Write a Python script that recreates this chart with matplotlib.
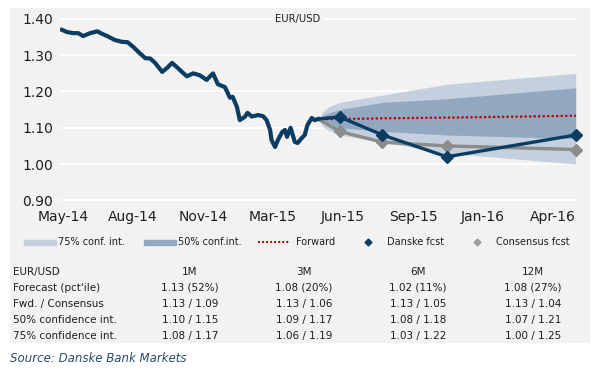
import numpy as np
import matplotlib
matplotlib.use("Agg")
import matplotlib.pyplot as plt
from matplotlib.patches import Rectangle
from matplotlib.lines import Line2D

# historical EUR/USD (days since start, spot)
hist_day = [0, 7, 16, 23, 30, 40, 50, 57, 64, 75, 85, 93, 101, 110, 118, 125,
            132, 142, 149, 156, 163, 170, 177, 186, 195, 205, 214, 221, 231,
            238, 242, 248, 252, 259, 263, 269, 278, 285, 290, 295, 297, 302,
            306, 312, 316, 319, 324, 330, 334, 340, 344, 348, 354, 358, 363]
hist_val = [1.370, 1.364, 1.361, 1.361, 1.353, 1.361, 1.366, 1.359, 1.353,
            1.342, 1.337, 1.336, 1.323, 1.306, 1.292, 1.291, 1.279, 1.254,
            1.265, 1.279, 1.267, 1.254, 1.242, 1.250, 1.245, 1.232, 1.250,
            1.220, 1.212, 1.183, 1.185, 1.157, 1.121, 1.130, 1.141, 1.131,
            1.135, 1.132, 1.121, 1.094, 1.066, 1.047, 1.066, 1.088, 1.094,
            1.075, 1.100, 1.061, 1.058, 1.072, 1.080, 1.108, 1.127, 1.121,
            1.124]

spot_day = 363
spot = 1.124

# forecast horizons in months
fc_months = [1, 3, 6, 12]
danske = [1.13, 1.08, 1.02, 1.08]
consensus = [1.09, 1.06, 1.05, 1.04]
forward = [1.124, 1.126, 1.128, 1.133]

# confidence cone (months incl. spot)
cone_months = [0, 0.25, 0.5, 1, 3, 6, 12]
ci50_lo = [1.124, 1.112, 1.106, 1.10, 1.09, 1.08, 1.07]
ci50_hi = [1.124, 1.135, 1.141, 1.15, 1.17, 1.18, 1.21]
ci75_lo = [1.124, 1.102, 1.092, 1.08, 1.06, 1.03, 1.00]
ci75_hi = [1.124, 1.146, 1.158, 1.17, 1.19, 1.22, 1.25]

xtick_labels = ["May-14", "Aug-14", "Nov-14", "Mar-15", "Jun-15", "Sep-15", "Jan-16", "Apr-16"]
yticks = [0.90, 1.00, 1.10, 1.20, 1.30, 1.40]

table_cols = ["1M", "3M", "6M", "12M"]
table_rows = ["Forecast (pct'ile)", "Fwd. / Consensus", "50% confidence int.", "75% confidence int."]
table_vals = [
    ["1.13 (52%)", "1.08 (20%)", "1.02 (11%)", "1.08 (27%)"],
    ["1.13 / 1.09", "1.13 / 1.06", "1.13 / 1.05", "1.13 / 1.04"],
    ["1.10 / 1.15", "1.09 / 1.17", "1.08 / 1.18", "1.07 / 1.21"],
    ["1.08 / 1.17", "1.06 / 1.19", "1.03 / 1.22", "1.00 / 1.25"],
]

# colours
BG = "#f2f2f2"
NAVY = "#0b3d62"
GREY = "#8c8c8c"
RED = "#c00000"
C75 = "#c4d0de"
C50 = "#92a7c0"
TXT = "#1e1e1e"
DOTS = (0, (0.01, 1.7))

plt.rcParams["font.family"] = ["DejaVu Sans"]

W, H = 607, 371
fig = plt.figure(figsize=(W / 100, H / 100), dpi=100)


def fx(px):
    return px / W


def fy(py):
    return 1 - py / H


# grey panel behind chart, legend and table
fig.patches.append(Rectangle((fx(10), fy(343)), (590 - 10) / W, (343 - 8) / H,
                             transform=fig.transFigure, facecolor=BG,
                             edgecolor="none", zorder=-10))

ax = fig.add_axes([fx(60), fy(204), (576 - 60) / W, (204 - 8) / H])
ax.set_facecolor("none")
ax.set_zorder(2)

month = 30.42
cone_x = [spot_day + m * month for m in cone_months]
fc_x = [spot_day + m * month for m in fc_months]

ax.fill_between(cone_x, ci75_lo, ci75_hi, color=C75, lw=0, zorder=1)
ax.fill_between(cone_x, ci50_lo, ci50_hi, color=C50, lw=0, zorder=2)

ax.plot([spot_day] + fc_x, [spot] + forward, color=RED, lw=1.9,
        linestyle=DOTS, dash_capstyle="round", zorder=3)
ax.plot([spot_day] + fc_x, [spot] + consensus, color=GREY, lw=2.4, zorder=4)
ax.plot(fc_x, consensus, ls="none", marker="D", ms=6, color=GREY, zorder=4,
        clip_on=False)
ax.plot(hist_day, hist_val, color=NAVY, lw=3.0, solid_joinstyle="round", zorder=5)
ax.plot([spot_day] + fc_x, [spot] + danske, color=NAVY, lw=2.4, zorder=5)
ax.plot(fc_x, danske, ls="none", marker="D", ms=6.5, color=NAVY, zorder=6,
        clip_on=False)

ax.set_xlim(-2.8, 728.5)
ax.set_ylim(0.8897, 1.4303)
tick_x = 1.4 + 99.2 * np.arange(len(xtick_labels))
ax.set_xticks(tick_x, xtick_labels)
ax.set_yticks(yticks, [f"{v:.2f}" for v in yticks])
ax.tick_params(length=0, labelsize=10, colors=TXT)
ax.tick_params(axis="y", pad=5)
ax.tick_params(axis="x", pad=4)
ax.grid(axis="y", color="white", lw=1.3, zorder=0)
ax.set_axisbelow(True)
for s in ax.spines.values():
    s.set_visible(False)

fig.text(fx(298), fy(19), "EUR/USD", fontsize=7.2, color=TXT, ha="center",
         va="center", zorder=5,
         bbox=dict(facecolor=BG, edgecolor="none", pad=1.5))

# legend row
ly = fy(242)
fig.patches.append(Rectangle((fx(24), ly - 2.5 / H), 32 / W, 5 / H,
                             transform=fig.transFigure, color=C75))
fig.text(fx(58), ly, "75% conf. int.", fontsize=7, color=TXT, va="center")
fig.patches.append(Rectangle((fx(144), ly - 2.5 / H), 32 / W, 5 / H,
                             transform=fig.transFigure, color=C50))
fig.text(fx(178), ly, "50% conf.int.", fontsize=7, color=TXT, va="center")
fig.lines.append(Line2D([fx(259), fx(290)], [ly, ly], transform=fig.transFigure,
                        color=RED, lw=1.7, linestyle=DOTS,
                        dash_capstyle="round"))
fig.text(fx(296), ly, "Forward", fontsize=7, color=TXT, va="center")
fig.lines.append(Line2D([fx(368)], [ly], transform=fig.transFigure, marker="D",
                        ms=3.5, color=NAVY, ls="none"))
fig.text(fx(387), ly, "Danske fcst", fontsize=7, color=TXT, va="center")
fig.lines.append(Line2D([fx(477)], [ly], transform=fig.transFigure, marker="D",
                        ms=3.5, color="#a0a0a0", ls="none"))
fig.text(fx(496), ly, "Consensus fcst", fontsize=7, color=TXT, va="center")

# table
col_x = [190, 304, 418, 533]
row_y = [288, 304, 320, 336]
fig.text(fx(13), fy(272), "EUR/USD", fontsize=7.5, color=TXT, va="center")
for cx, name in zip(col_x, table_cols):
    fig.text(fx(cx), fy(272), name, fontsize=7.5, color=TXT, ha="center", va="center")
for ry, name, vals in zip(row_y, table_rows, table_vals):
    fig.text(fx(13), fy(ry), name, fontsize=7.5, color=TXT, va="center")
    for cx, v in zip(col_x, vals):
        fig.text(fx(cx), fy(ry), v, fontsize=7.5, color=TXT, ha="center", va="center")

fig.text(fx(10), fy(359), "Source: Danske Bank Markets", fontsize=8.5,
         style="italic", color="#2c4a68", va="center")

fig.savefig("out.png", dpi=100, facecolor="white")
